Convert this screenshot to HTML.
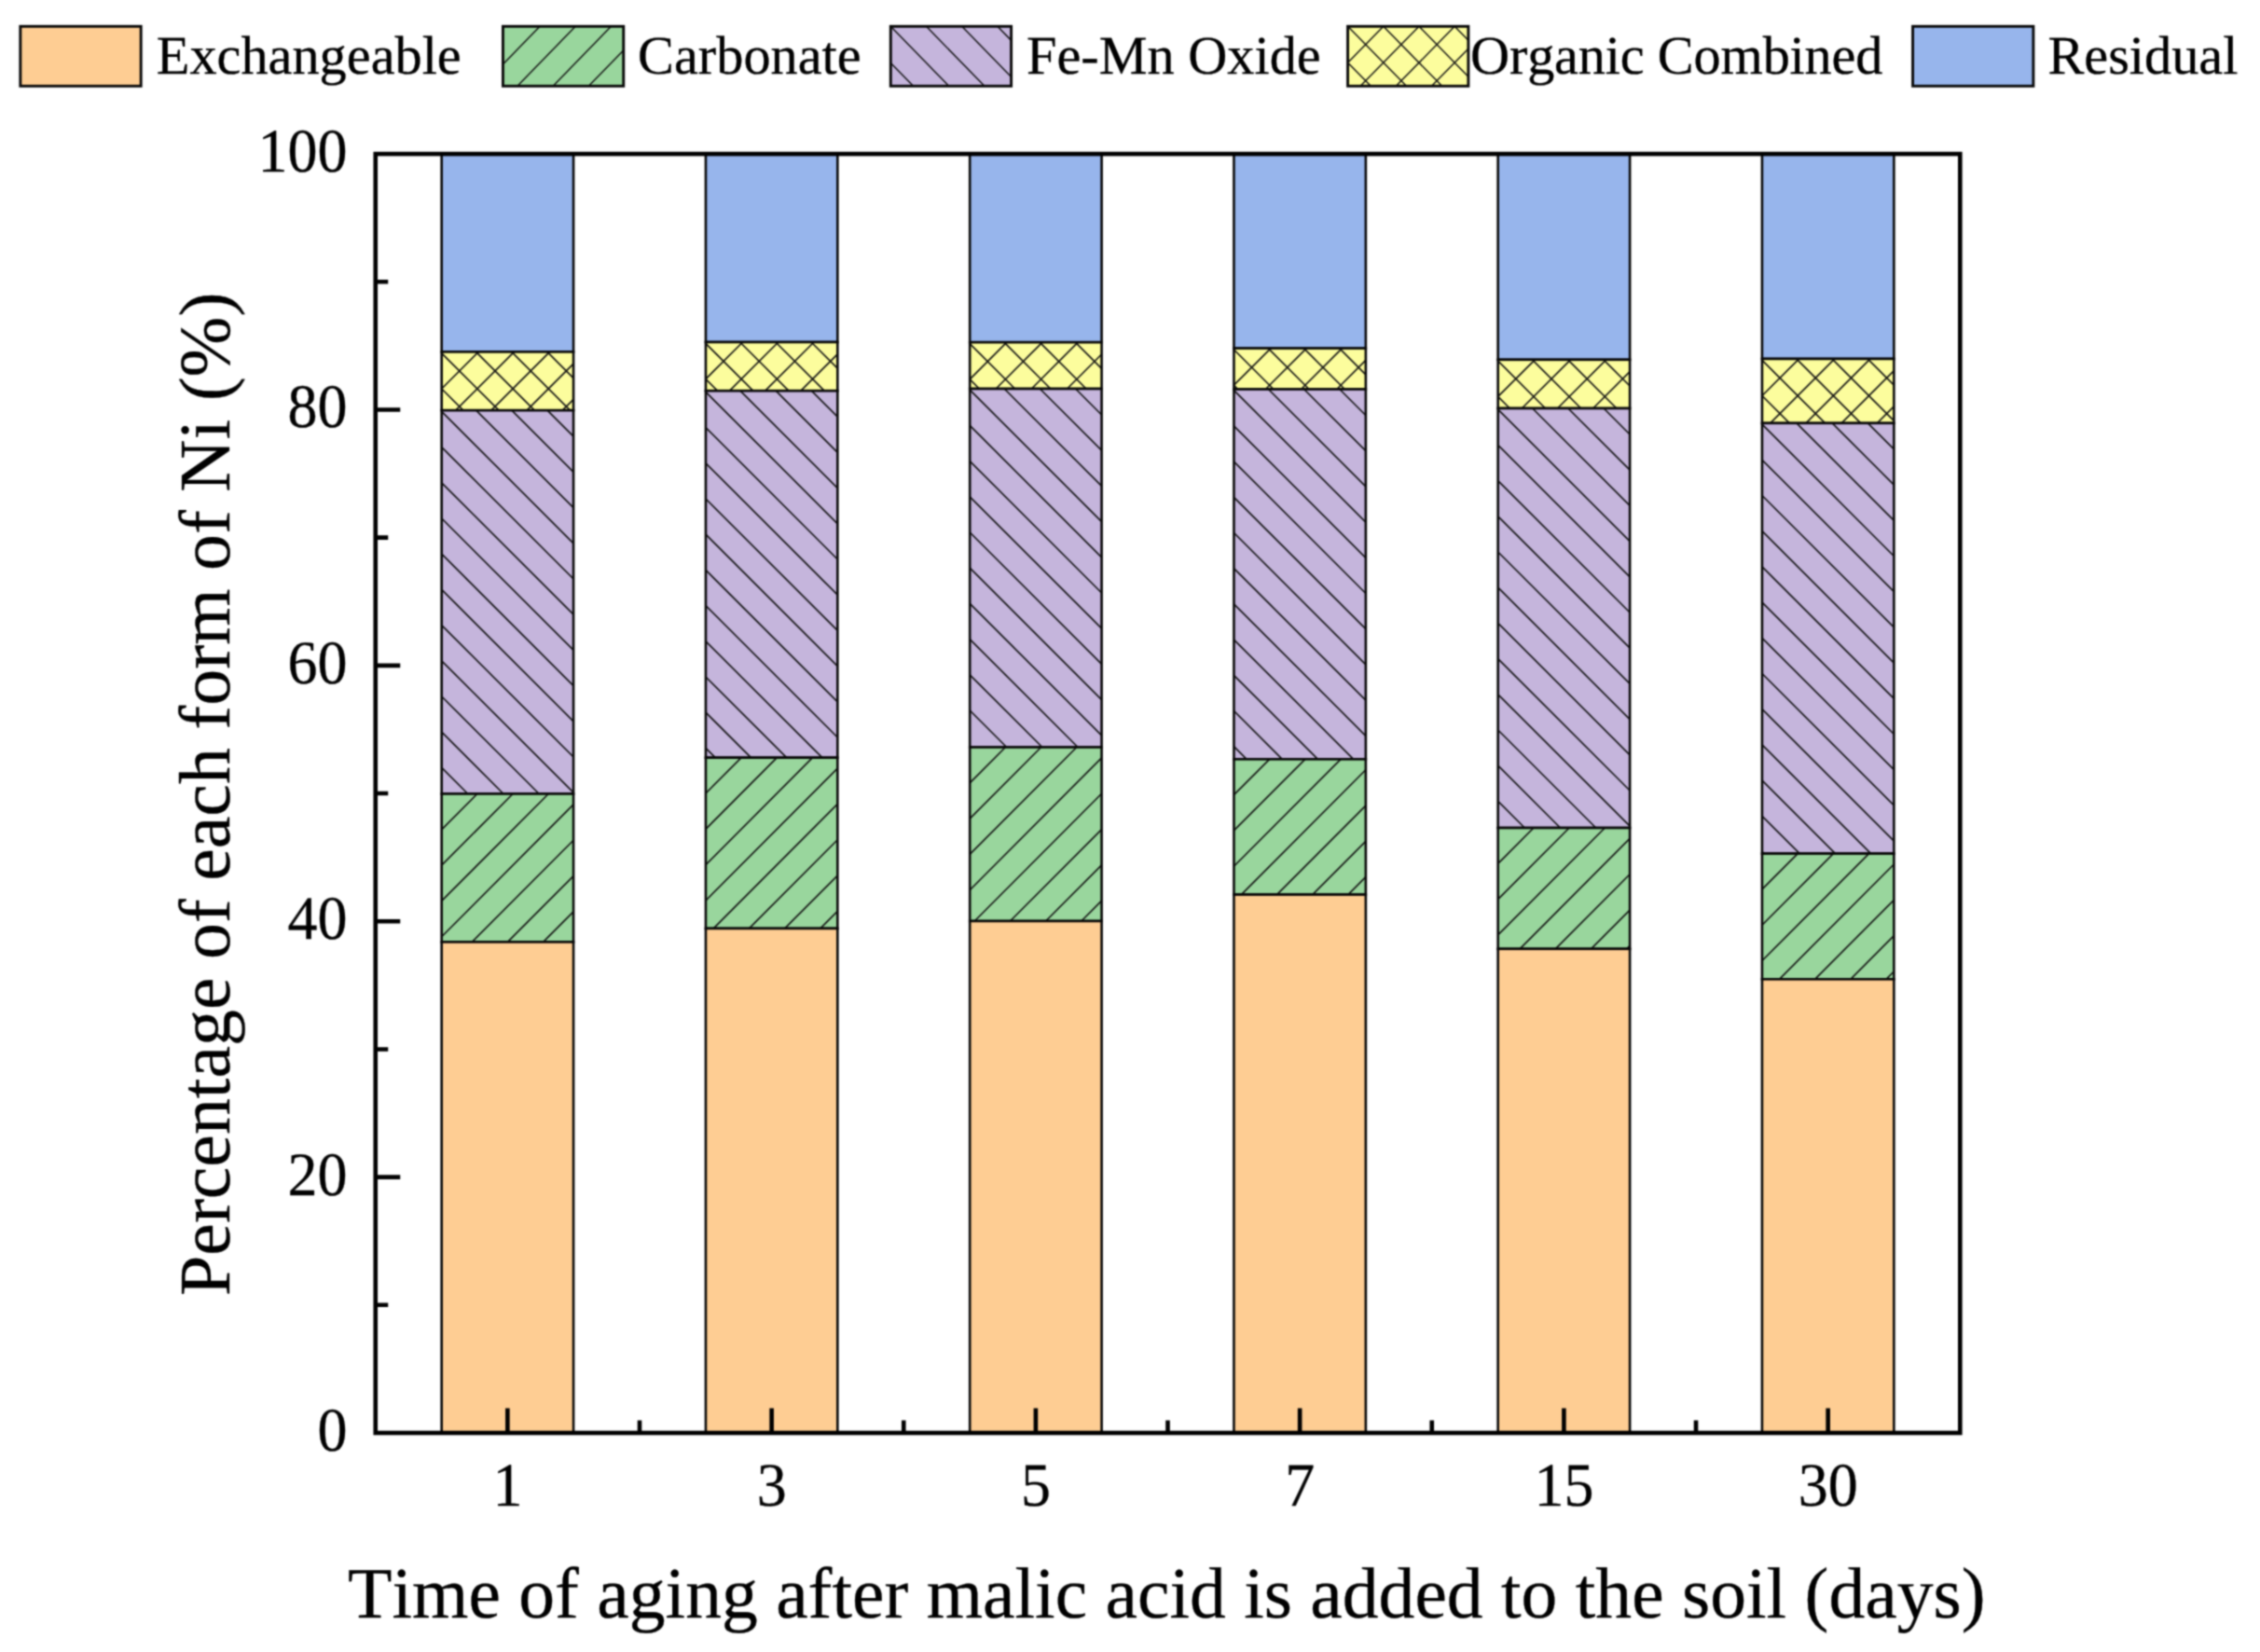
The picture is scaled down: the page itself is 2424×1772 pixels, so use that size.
<!DOCTYPE html>
<html lang="en"><head><meta charset="utf-8"><title>Ni speciation chart</title>
<style>html,body{margin:0;padding:0;background:#fff}svg{display:block}text{fill:#000;stroke:#000;stroke-width:0.3px;stroke-linejoin:round;font-kerning:none;font-variant-ligatures:none;text-rendering:geometricPrecision}</style></head>
<body><svg width="2424" height="1772" viewBox="0 0 2424 1772">
<defs><filter id="soft" x="0" y="0" width="2424" height="1772" filterUnits="userSpaceOnUse" color-interpolation-filters="sRGB"><feConvolveMatrix order="5" kernelMatrix="0.0019 0.0201 0.0439 0.0201 0.0019 0.0201 0.2096 0.4578 0.2096 0.0201 0.0439 0.4578 1.0000 0.4578 0.0439 0.0201 0.2096 0.4578 0.2096 0.0201 0.0019 0.0201 0.0439 0.0201 0.0019" edgeMode="duplicate" preserveAlpha="true"/></filter></defs>
<rect width="2424" height="1772" fill="#fff"/>
<g filter="url(#soft)">
<rect width="2424" height="1772" fill="#fff"/>
<g>
<rect x="473.68" y="165.10" width="141.40" height="212.30" fill="#97B5EC"/>
<rect x="473.68" y="165.10" width="141.40" height="212.30" fill="none" stroke="#080808" stroke-width="2.6"/>
<rect x="473.68" y="377.40" width="141.40" height="62.80" fill="#FCFD9D"/>
<path d="M475.08 377.40L473.68 378.80M513.28 377.40L473.68 417.00M551.48 377.40L488.68 440.20M589.68 377.40L526.88 440.20M615.08 390.20L565.08 440.20M615.08 428.40L603.28 440.20M473.68 417.00L496.88 440.20M473.68 378.80L535.08 440.20M510.48 377.40L573.28 440.20M548.68 377.40L611.48 440.20M586.88 377.40L615.08 405.60" stroke="#141414" stroke-width="1.65" fill="none"/>
<rect x="473.68" y="377.40" width="141.40" height="62.80" fill="none" stroke="#080808" stroke-width="2.6"/>
<rect x="473.68" y="440.20" width="141.40" height="411.30" fill="#C5B5DC"/>
<path d="M473.68 823.40L501.78 851.50M473.68 785.20L539.98 851.50M473.68 747.00L578.18 851.50M473.68 708.80L615.08 850.20M473.68 670.60L615.08 812.00M473.68 632.40L615.08 773.80M473.68 594.20L615.08 735.60M473.68 556.00L615.08 697.40M473.68 517.80L615.08 659.20M473.68 479.60L615.08 621.00M473.68 441.40L615.08 582.80M510.68 440.20L615.08 544.60M548.88 440.20L615.08 506.40M587.08 440.20L615.08 468.20" stroke="#141414" stroke-width="1.65" fill="none"/>
<rect x="473.68" y="440.20" width="141.40" height="411.30" fill="none" stroke="#080808" stroke-width="2.6"/>
<rect x="473.68" y="851.50" width="141.40" height="158.90" fill="#99D69D"/>
<path d="M511.88 851.50L473.68 889.81M550.08 851.50L473.68 928.13M588.28 851.50L473.68 966.44M615.08 862.93L473.68 1004.76M615.08 901.25L506.26 1010.40M615.08 939.56L544.46 1010.40M615.08 977.88L582.66 1010.40" stroke="#141414" stroke-width="1.65" fill="none"/>
<rect x="473.68" y="851.50" width="141.40" height="158.90" fill="none" stroke="#080808" stroke-width="2.6"/>
<rect x="473.68" y="1010.40" width="141.40" height="526.60" fill="#FECD93"/>
<rect x="473.68" y="1010.40" width="141.40" height="526.60" fill="none" stroke="#080808" stroke-width="2.6"/>
</g>
<g>
<rect x="756.94" y="165.10" width="141.40" height="201.90" fill="#97B5EC"/>
<rect x="756.94" y="165.10" width="141.40" height="201.90" fill="none" stroke="#080808" stroke-width="2.6"/>
<rect x="756.94" y="367.00" width="141.40" height="52.20" fill="#FCFD9D"/>
<path d="M758.34 367.00L756.94 368.40M796.54 367.00L756.94 406.60M834.74 367.00L782.54 419.20M872.94 367.00L820.74 419.20M898.34 379.80L858.94 419.20M898.34 418.00L897.14 419.20M756.94 406.60L769.54 419.20M756.94 368.40L807.74 419.20M793.74 367.00L845.94 419.20M831.94 367.00L884.14 419.20M870.14 367.00L898.34 395.20" stroke="#141414" stroke-width="1.65" fill="none"/>
<rect x="756.94" y="367.00" width="141.40" height="52.20" fill="none" stroke="#080808" stroke-width="2.6"/>
<rect x="756.94" y="419.20" width="141.40" height="393.50" fill="#C5B5DC"/>
<path d="M756.94 802.40L767.24 812.70M756.94 764.20L805.44 812.70M756.94 726.00L843.64 812.70M756.94 687.80L881.84 812.70M756.94 649.60L898.34 791.00M756.94 611.40L898.34 752.80M756.94 573.20L898.34 714.60M756.94 535.00L898.34 676.40M756.94 496.80L898.34 638.20M756.94 458.60L898.34 600.00M756.94 420.40L898.34 561.80M793.94 419.20L898.34 523.60M832.14 419.20L898.34 485.40M870.34 419.20L898.34 447.20" stroke="#141414" stroke-width="1.65" fill="none"/>
<rect x="756.94" y="419.20" width="141.40" height="393.50" fill="none" stroke="#080808" stroke-width="2.6"/>
<rect x="756.94" y="812.70" width="141.40" height="183.20" fill="#99D69D"/>
<path d="M795.14 812.70L756.94 851.01M833.34 812.70L756.94 889.33M871.54 812.70L756.94 927.64M898.34 824.13L756.94 965.96M898.34 862.45L765.29 995.90M898.34 900.76L803.49 995.90M898.34 939.08L841.69 995.90M898.34 977.39L879.89 995.90" stroke="#141414" stroke-width="1.65" fill="none"/>
<rect x="756.94" y="812.70" width="141.40" height="183.20" fill="none" stroke="#080808" stroke-width="2.6"/>
<rect x="756.94" y="995.90" width="141.40" height="541.10" fill="#FECD93"/>
<rect x="756.94" y="995.90" width="141.40" height="541.10" fill="none" stroke="#080808" stroke-width="2.6"/>
</g>
<g>
<rect x="1040.20" y="165.10" width="141.40" height="202.10" fill="#97B5EC"/>
<rect x="1040.20" y="165.10" width="141.40" height="202.10" fill="none" stroke="#080808" stroke-width="2.6"/>
<rect x="1040.20" y="367.20" width="141.40" height="49.80" fill="#FCFD9D"/>
<path d="M1041.60 367.20L1040.20 368.60M1079.80 367.20L1040.20 406.80M1118.00 367.20L1068.20 417.00M1156.20 367.20L1106.40 417.00M1181.60 380.00L1144.60 417.00M1040.20 406.80L1050.40 417.00M1040.20 368.60L1088.60 417.00M1077.00 367.20L1126.80 417.00M1115.20 367.20L1165.00 417.00M1153.40 367.20L1181.60 395.40" stroke="#141414" stroke-width="1.65" fill="none"/>
<rect x="1040.20" y="367.20" width="141.40" height="49.80" fill="none" stroke="#080808" stroke-width="2.6"/>
<rect x="1040.20" y="417.00" width="141.40" height="384.50" fill="#C5B5DC"/>
<path d="M1040.20 800.20L1041.50 801.50M1040.20 762.00L1079.70 801.50M1040.20 723.80L1117.90 801.50M1040.20 685.60L1156.10 801.50M1040.20 647.40L1181.60 788.80M1040.20 609.20L1181.60 750.60M1040.20 571.00L1181.60 712.40M1040.20 532.80L1181.60 674.20M1040.20 494.60L1181.60 636.00M1040.20 456.40L1181.60 597.80M1040.20 418.20L1181.60 559.60M1077.20 417.00L1181.60 521.40M1115.40 417.00L1181.60 483.20M1153.60 417.00L1181.60 445.00" stroke="#141414" stroke-width="1.65" fill="none"/>
<rect x="1040.20" y="417.00" width="141.40" height="384.50" fill="none" stroke="#080808" stroke-width="2.6"/>
<rect x="1040.20" y="801.50" width="141.40" height="186.50" fill="#99D69D"/>
<path d="M1078.40 801.50L1040.20 839.81M1116.60 801.50L1040.20 878.13M1154.80 801.50L1040.20 916.44M1181.60 812.93L1040.20 954.76M1181.60 851.25L1045.26 988.00M1181.60 889.56L1083.46 988.00M1181.60 927.88L1121.66 988.00M1181.60 966.19L1159.86 988.00" stroke="#141414" stroke-width="1.65" fill="none"/>
<rect x="1040.20" y="801.50" width="141.40" height="186.50" fill="none" stroke="#080808" stroke-width="2.6"/>
<rect x="1040.20" y="988.00" width="141.40" height="549.00" fill="#FECD93"/>
<rect x="1040.20" y="988.00" width="141.40" height="549.00" fill="none" stroke="#080808" stroke-width="2.6"/>
</g>
<g>
<rect x="1323.45" y="165.10" width="141.40" height="208.50" fill="#97B5EC"/>
<rect x="1323.45" y="165.10" width="141.40" height="208.50" fill="none" stroke="#080808" stroke-width="2.6"/>
<rect x="1323.45" y="373.60" width="141.40" height="43.90" fill="#FCFD9D"/>
<path d="M1324.85 373.60L1323.45 375.00M1363.05 373.60L1323.45 413.20M1401.25 373.60L1357.35 417.50M1439.45 373.60L1395.55 417.50M1464.85 386.40L1433.75 417.50M1323.45 413.20L1327.75 417.50M1323.45 375.00L1365.95 417.50M1360.25 373.60L1404.15 417.50M1398.45 373.60L1442.35 417.50M1436.65 373.60L1464.85 401.80" stroke="#141414" stroke-width="1.65" fill="none"/>
<rect x="1323.45" y="373.60" width="141.40" height="43.90" fill="none" stroke="#080808" stroke-width="2.6"/>
<rect x="1323.45" y="417.50" width="141.40" height="396.80" fill="#C5B5DC"/>
<path d="M1323.45 800.70L1337.05 814.30M1323.45 762.50L1375.25 814.30M1323.45 724.30L1413.45 814.30M1323.45 686.10L1451.65 814.30M1323.45 647.90L1464.85 789.30M1323.45 609.70L1464.85 751.10M1323.45 571.50L1464.85 712.90M1323.45 533.30L1464.85 674.70M1323.45 495.10L1464.85 636.50M1323.45 456.90L1464.85 598.30M1323.45 418.70L1464.85 560.10M1360.45 417.50L1464.85 521.90M1398.65 417.50L1464.85 483.70M1436.85 417.50L1464.85 445.50" stroke="#141414" stroke-width="1.65" fill="none"/>
<rect x="1323.45" y="417.50" width="141.40" height="396.80" fill="none" stroke="#080808" stroke-width="2.6"/>
<rect x="1323.45" y="814.30" width="141.40" height="145.30" fill="#99D69D"/>
<path d="M1361.65 814.30L1323.45 852.61M1399.85 814.30L1323.45 890.93M1438.05 814.30L1323.45 929.24M1464.85 825.73L1331.39 959.60M1464.85 864.05L1369.59 959.60M1464.85 902.36L1407.79 959.60M1464.85 940.68L1445.99 959.60" stroke="#141414" stroke-width="1.65" fill="none"/>
<rect x="1323.45" y="814.30" width="141.40" height="145.30" fill="none" stroke="#080808" stroke-width="2.6"/>
<rect x="1323.45" y="959.60" width="141.40" height="577.40" fill="#FECD93"/>
<rect x="1323.45" y="959.60" width="141.40" height="577.40" fill="none" stroke="#080808" stroke-width="2.6"/>
</g>
<g>
<rect x="1606.71" y="165.10" width="141.40" height="220.70" fill="#97B5EC"/>
<rect x="1606.71" y="165.10" width="141.40" height="220.70" fill="none" stroke="#080808" stroke-width="2.6"/>
<rect x="1606.71" y="385.80" width="141.40" height="52.20" fill="#FCFD9D"/>
<path d="M1608.11 385.80L1606.71 387.20M1646.31 385.80L1606.71 425.40M1684.51 385.80L1632.31 438.00M1722.71 385.80L1670.51 438.00M1748.11 398.60L1708.71 438.00M1748.11 436.80L1746.91 438.00M1606.71 425.40L1619.31 438.00M1606.71 387.20L1657.51 438.00M1643.51 385.80L1695.71 438.00M1681.71 385.80L1733.91 438.00M1719.91 385.80L1748.11 414.00" stroke="#141414" stroke-width="1.65" fill="none"/>
<rect x="1606.71" y="385.80" width="141.40" height="52.20" fill="none" stroke="#080808" stroke-width="2.6"/>
<rect x="1606.71" y="438.00" width="141.40" height="450.00" fill="#C5B5DC"/>
<path d="M1606.71 859.40L1635.31 888.00M1606.71 821.20L1673.51 888.00M1606.71 783.00L1711.71 888.00M1606.71 744.80L1748.11 886.20M1606.71 706.60L1748.11 848.00M1606.71 668.40L1748.11 809.80M1606.71 630.20L1748.11 771.60M1606.71 592.00L1748.11 733.40M1606.71 553.80L1748.11 695.20M1606.71 515.60L1748.11 657.00M1606.71 477.40L1748.11 618.80M1606.71 439.20L1748.11 580.60M1643.71 438.00L1748.11 542.40M1681.91 438.00L1748.11 504.20M1720.11 438.00L1748.11 466.00" stroke="#141414" stroke-width="1.65" fill="none"/>
<rect x="1606.71" y="438.00" width="141.40" height="450.00" fill="none" stroke="#080808" stroke-width="2.6"/>
<rect x="1606.71" y="888.00" width="141.40" height="129.80" fill="#99D69D"/>
<path d="M1644.91 888.00L1606.71 926.31M1683.11 888.00L1606.71 964.63M1721.31 888.00L1606.71 1002.94M1748.11 899.43L1630.10 1017.80M1748.11 937.75L1668.30 1017.80M1748.11 976.06L1706.50 1017.80M1748.11 1014.38L1744.70 1017.80" stroke="#141414" stroke-width="1.65" fill="none"/>
<rect x="1606.71" y="888.00" width="141.40" height="129.80" fill="none" stroke="#080808" stroke-width="2.6"/>
<rect x="1606.71" y="1017.80" width="141.40" height="519.20" fill="#FECD93"/>
<rect x="1606.71" y="1017.80" width="141.40" height="519.20" fill="none" stroke="#080808" stroke-width="2.6"/>
</g>
<g>
<rect x="1889.97" y="165.10" width="141.40" height="219.80" fill="#97B5EC"/>
<rect x="1889.97" y="165.10" width="141.40" height="219.80" fill="none" stroke="#080808" stroke-width="2.6"/>
<rect x="1889.97" y="384.90" width="141.40" height="69.00" fill="#FCFD9D"/>
<path d="M1891.37 384.90L1889.97 386.30M1929.57 384.90L1889.97 424.50M1967.77 384.90L1898.77 453.90M2005.97 384.90L1936.97 453.90M2031.37 397.70L1975.17 453.90M2031.37 435.90L2013.37 453.90M1889.97 424.50L1919.37 453.90M1889.97 386.30L1957.57 453.90M1926.77 384.90L1995.77 453.90M1964.97 384.90L2031.37 451.30M2003.17 384.90L2031.37 413.10" stroke="#141414" stroke-width="1.65" fill="none"/>
<rect x="1889.97" y="384.90" width="141.40" height="69.00" fill="none" stroke="#080808" stroke-width="2.6"/>
<rect x="1889.97" y="453.90" width="141.40" height="461.70" fill="#C5B5DC"/>
<path d="M1889.97 913.50L1892.07 915.60M1889.97 875.30L1930.27 915.60M1889.97 837.10L1968.47 915.60M1889.97 798.90L2006.67 915.60M1889.97 760.70L2031.37 902.10M1889.97 722.50L2031.37 863.90M1889.97 684.30L2031.37 825.70M1889.97 646.10L2031.37 787.50M1889.97 607.90L2031.37 749.30M1889.97 569.70L2031.37 711.10M1889.97 531.50L2031.37 672.90M1889.97 493.30L2031.37 634.70M1889.97 455.10L2031.37 596.50M1926.97 453.90L2031.37 558.30M1965.17 453.90L2031.37 520.10M2003.37 453.90L2031.37 481.90" stroke="#141414" stroke-width="1.65" fill="none"/>
<rect x="1889.97" y="453.90" width="141.40" height="461.70" fill="none" stroke="#080808" stroke-width="2.6"/>
<rect x="1889.97" y="915.60" width="141.40" height="134.70" fill="#99D69D"/>
<path d="M1928.17 915.60L1889.97 953.91M1966.37 915.60L1889.97 992.23M2004.57 915.60L1889.97 1030.54M2031.37 927.03L1908.47 1050.30M2031.37 965.35L1946.67 1050.30M2031.37 1003.66L1984.87 1050.30M2031.37 1041.98L2023.07 1050.30" stroke="#141414" stroke-width="1.65" fill="none"/>
<rect x="1889.97" y="915.60" width="141.40" height="134.70" fill="none" stroke="#080808" stroke-width="2.6"/>
<rect x="1889.97" y="1050.30" width="141.40" height="486.70" fill="#FECD93"/>
<rect x="1889.97" y="1050.30" width="141.40" height="486.70" fill="none" stroke="#080808" stroke-width="2.6"/>
</g>
<rect x="402.75" y="165.1" width="1699.55" height="1371.90" fill="none" stroke="#000" stroke-width="4.6"/>
<path d="M402.75 1399.81h13.5M402.75 1262.62h26.5M402.75 1125.43h13.5M402.75 988.24h26.5M402.75 851.05h13.5M402.75 713.86h26.5M402.75 576.67h13.5M402.75 439.48h26.5M402.75 302.29h13.5M544.38 1537.0v-26.5M686.01 1537.0v-13.5M827.64 1537.0v-26.5M969.27 1537.0v-13.5M1110.90 1537.0v-26.5M1252.53 1537.0v-13.5M1394.15 1537.0v-26.5M1535.78 1537.0v-13.5M1677.41 1537.0v-26.5M1819.04 1537.0v-13.5M1960.67 1537.0v-26.5" stroke="#000" stroke-width="4.6" fill="none"/>
<text transform="translate(372.4 1556.00) scale(1 1.035)" font-size="64" text-anchor="end" font-family="Liberation Serif, serif">0</text>
<text transform="translate(372.4 1281.62) scale(1 1.035)" font-size="64" text-anchor="end" font-family="Liberation Serif, serif">20</text>
<text transform="translate(372.4 1007.24) scale(1 1.035)" font-size="64" text-anchor="end" font-family="Liberation Serif, serif">40</text>
<text transform="translate(372.4 732.86) scale(1 1.035)" font-size="64" text-anchor="end" font-family="Liberation Serif, serif">60</text>
<text transform="translate(372.4 458.48) scale(1 1.035)" font-size="64" text-anchor="end" font-family="Liberation Serif, serif">80</text>
<text transform="translate(372.4 184.10) scale(1 1.035)" font-size="64" text-anchor="end" font-family="Liberation Serif, serif">100</text>
<text transform="translate(544.38 1615.4) scale(1 1.035)" font-size="64" text-anchor="middle" font-family="Liberation Serif, serif">1</text>
<text transform="translate(827.64 1615.4) scale(1 1.035)" font-size="64" text-anchor="middle" font-family="Liberation Serif, serif">3</text>
<text transform="translate(1110.90 1615.4) scale(1 1.035)" font-size="64" text-anchor="middle" font-family="Liberation Serif, serif">5</text>
<text transform="translate(1394.15 1615.4) scale(1 1.035)" font-size="64" text-anchor="middle" font-family="Liberation Serif, serif">7</text>
<text transform="translate(1677.41 1615.4) scale(1 1.035)" font-size="64" text-anchor="middle" font-family="Liberation Serif, serif">15</text>
<text transform="translate(1960.67 1615.4) scale(1 1.035)" font-size="64" text-anchor="middle" font-family="Liberation Serif, serif">30</text>
<text x="1251.3" y="1735.3" font-size="77.62" text-anchor="middle" font-family="Liberation Serif, serif">Time of aging after malic acid is added to the soil (days)</text>
<text transform="translate(246.2 851.8) rotate(-90)" font-size="77.85" text-anchor="middle" font-family="Liberation Serif, serif">Percentage of each form of Ni (%)</text>
<rect x="21.85" y="28.30" width="129.30" height="64.00" fill="#FECD93"/>
<rect x="21.85" y="28.30" width="129.30" height="64.00" fill="none" stroke="#080808" stroke-width="2.9"/>
<text x="167.8" y="79.3" font-size="58.3" font-family="Liberation Serif, serif">Exchangeable</text>
<rect x="539.45" y="28.30" width="129.30" height="64.00" fill="#99D69D"/>
<path d="M540.85 28.30L539.45 29.74M579.05 28.30L539.45 69.04M617.25 28.30L555.04 92.30M655.45 28.30L593.24 92.30M668.75 53.92L631.44 92.30" stroke="#141414" stroke-width="1.5" fill="none"/>
<rect x="539.45" y="28.30" width="129.30" height="64.00" fill="none" stroke="#080808" stroke-width="2.9"/>
<text x="684.1" y="79.3" font-size="58.3" font-family="Liberation Serif, serif">Carbonate</text>
<rect x="955.30" y="28.30" width="129.30" height="64.00" fill="#C5B5DC"/>
<path d="M955.30 67.48L979.50 92.30M955.30 28.30L1017.70 92.30M993.50 28.30L1055.90 92.30M1031.70 28.30L1084.60 82.56M1069.90 28.30L1084.60 43.38" stroke="#141414" stroke-width="1.5" fill="none"/>
<rect x="955.30" y="28.30" width="129.30" height="64.00" fill="none" stroke="#080808" stroke-width="2.9"/>
<text x="1101.0" y="79.3" font-size="58.3" font-family="Liberation Serif, serif">Fe-Mn Oxide</text>
<rect x="1445.60" y="28.30" width="129.30" height="64.00" fill="#FCFD9D"/>
<path d="M1483.80 28.30L1445.60 67.20M1522.00 28.30L1459.15 92.30M1560.20 28.30L1497.35 92.30M1574.90 52.23L1535.55 92.30M1574.90 91.13L1573.75 92.30M1445.60 67.20L1470.25 92.30M1445.60 28.30L1508.45 92.30M1483.80 28.30L1546.65 92.30M1522.00 28.30L1574.90 82.17M1560.20 28.30L1574.90 43.27" stroke="#141414" stroke-width="1.5" fill="none"/>
<rect x="1445.60" y="28.30" width="129.30" height="64.00" fill="none" stroke="#080808" stroke-width="2.9"/>
<text x="1577.0" y="79.3" font-size="58.3" textLength="442.4" lengthAdjust="spacing" font-family="Liberation Serif, serif">Organic Combined</text>
<rect x="2051.60" y="28.30" width="129.30" height="64.00" fill="#97B5EC"/>
<rect x="2051.60" y="28.30" width="129.30" height="64.00" fill="none" stroke="#080808" stroke-width="2.9"/>
<text x="2196.4" y="79.3" font-size="58.3" font-family="Liberation Serif, serif">Residual</text>
</g>
</svg></body></html>
